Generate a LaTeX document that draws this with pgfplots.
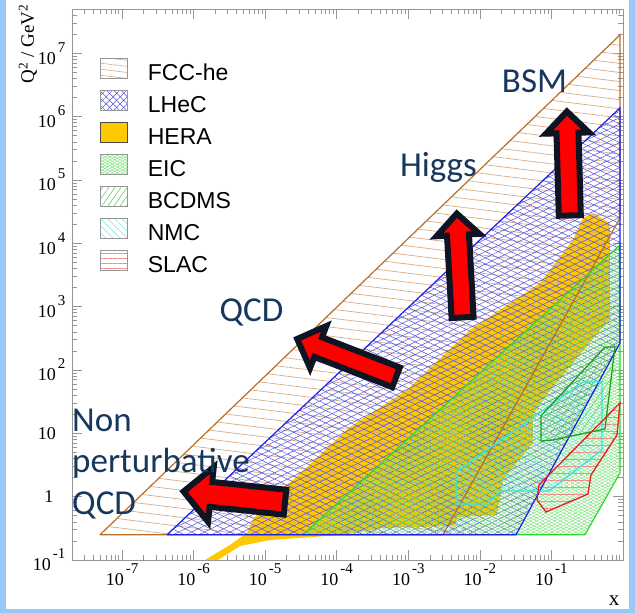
\documentclass[border=0pt]{standalone}
\usepackage{fontspec}
\setmainfont{Liberation Serif}
\newfontfamily\legfont{Liberation Sans}
\newfontfamily\calfont{Carlito}
\usepackage{pgfplots}
\pgfplotsset{compat=1.18}
\usetikzlibrary{patterns.meta,shapes.arrows}

\definecolor{fccc}{RGB}{185,110,40}
\definecolor{fcch}{RGB}{215,170,130}
\definecolor{lhecc}{RGB}{30,30,230}
\definecolor{lhech}{RGB}{80,80,220}
\definecolor{herac}{RGB}{255,200,0}
\definecolor{eicc}{RGB}{40,220,40}
\definecolor{eich}{RGB}{110,225,110}
\definecolor{bcdc}{RGB}{30,160,30}
\definecolor{bcdh}{RGB}{90,200,90}
\definecolor{nmcc}{RGB}{50,230,230}
\definecolor{nmch}{RGB}{110,230,230}
\definecolor{slacc}{RGB}{230,30,30}
\definecolor{slach}{RGB}{240,140,140}
\definecolor{navy}{RGB}{23,55,94}
\definecolor{framec}{RGB}{150,150,150}
\definecolor{slide}{RGB}{150,200,250}
\definecolor{arrowline}{RGB}{15,20,35}

\newcommand{\sx}[1]{10\kern2pt\raisebox{12pt}{\fontsize{15}{15}\selectfont #1}}

\begin{document}
\begin{tikzpicture}
\useasboundingbox (-72pt,-53pt) rectangle (563pt,560pt);
\begin{axis}[
  at={(0pt,0pt)}, anchor=south west,
  scale only axis, width=551pt, height=551pt,
  xmode=log, ymode=log,
  xmin=2e-8, xmax=1, ymin=0.1, ymax=5e7,
  xtick={1e-7,1e-6,1e-5,1e-4,1e-3,1e-2,1e-1},
  xticklabels={\sx{-7},\sx{-6},\sx{-5},\sx{-4},\sx{-3},\sx{-2},\sx{-1}},
  ytick={0.1,1,10,100,1e3,1e4,1e5,1e6,1e7},
  yticklabels={\sx{-1},{1\kern12pt},{10\kern9.5pt},\sx{2},\sx{3},\sx{4},\sx{5},\sx{6},\sx{7}},
  minor xtick={3e-8,4e-8,5e-8,6e-8,7e-8,8e-8,9e-8,
    2e-7,3e-7,4e-7,5e-7,6e-7,7e-7,8e-7,9e-7,
    2e-6,3e-6,4e-6,5e-6,6e-6,7e-6,8e-6,9e-6,
    2e-5,3e-5,4e-5,5e-5,6e-5,7e-5,8e-5,9e-5,
    2e-4,3e-4,4e-4,5e-4,6e-4,7e-4,8e-4,9e-4,
    2e-3,3e-3,4e-3,5e-3,6e-3,7e-3,8e-3,9e-3,
    2e-2,3e-2,4e-2,5e-2,6e-2,7e-2,8e-2,9e-2,
    0.2,0.3,0.4,0.5,0.6,0.7,0.8,0.9},
  minor ytick={0.2,0.3,0.4,0.5,0.6,0.7,0.8,0.9,
    2,3,4,5,6,7,8,9,
    20,30,40,50,60,70,80,90,
    200,300,400,500,600,700,800,900,
    2e3,3e3,4e3,5e3,6e3,7e3,8e3,9e3,
    2e4,3e4,4e4,5e4,6e4,7e4,8e4,9e4,
    2e5,3e5,4e5,5e5,6e5,7e5,8e5,9e5,
    2e6,3e6,4e6,5e6,6e6,7e6,8e6,9e6,
    2e7,3e7,4e7},
  tick align=inside,
  major tick length=10pt, minor tick length=5pt,
  tick style={framec, line width=0.6pt},
  axis line style={framec, line width=0.8pt},
  ticklabel style={font=\fontsize{18}{18}\selectfont},
  yticklabel style={xshift=-3pt},
  xlabel={x},
  xlabel style={at={(axis description cs:1,-0.0817)}, anchor=base east, font=\fontsize{21}{21}\selectfont},
  ylabel={Q\textsuperscript{2} / GeV\textsuperscript{2}},
  ylabel style={at={(axis description cs:-0.069,1.0145)}, anchor=base east, font=\fontsize{19}{19}\selectfont},
  legend style={at={(rel axis cs:0.051,0.911)}, anchor=north west, draw=none, fill=none,
    font=\legfont\fontsize{23}{23}\selectfont, row sep=4.7pt, column sep=20pt, inner sep=0pt,
    nodes={inner sep=0pt, text height=17pt, text depth=5pt}},
  legend cell align=left,
  legend image code/.code={\draw[#1] (0pt,-4pt) rectangle (27pt,16pt);},
]
% legend
\addlegendimage{draw=framec, line width=0.6pt, pattern={Lines[angle=-7,distance=6pt,line width=0.6pt]}, pattern color=fcch}
\addlegendentry{FCC-he}
\addlegendimage{draw=framec, line width=0.6pt, pattern={Lines[angle=45,distance=5pt,line width=0.5pt]}, pattern color=lhech, postaction={pattern={Lines[angle=-45,distance=5pt,line width=0.5pt]}, pattern color=lhech}}
\addlegendentry{LHeC}
\addlegendimage{draw=black!70, line width=0.6pt, fill=herac}
\addlegendentry{HERA}
\addlegendimage{draw=framec, line width=0.6pt, pattern={Lines[angle=30,distance=2.5pt,line width=0.4pt]}, pattern color=eich, postaction={pattern={Lines[angle=-30,distance=2.5pt,line width=0.4pt]}, pattern color=eich}}
\addlegendentry{EIC}
\addlegendimage{draw=framec, line width=0.6pt, pattern={Lines[angle=55,distance=5pt,line width=0.5pt]}, pattern color=bcdh}
\addlegendentry{BCDMS}
\addlegendimage{draw=framec, line width=0.6pt, pattern={Lines[angle=-45,distance=5pt,line width=0.5pt]}, pattern color=nmch}
\addlegendentry{NMC}
\addlegendimage{draw=framec, line width=0.6pt, pattern={Lines[angle=0,distance=5pt,line width=0.6pt]}, pattern color=slach}
\addlegendentry{SLAC}

% HERA
\addplot[forget plot, draw=none, fill=herac] coordinates {
(1.44e-6,0.1) (3.23e-6,0.173) (5.57e-6,0.267) (6.76e-6,0.429) (1.06e-5,0.885)
(2.45e-5,1.83) (3.84e-5,2.94) (1.53e-4,12.6) (9.59e-4,48.3) (7.28e-3,428)
(0.0692,2360) (0.2,1.13e4) (0.276,2.51e4) (0.381,3.01e4) (0.658,2.09e4)
(0.658,615) (0.508,460) (0.2,129) (0.0895,43.4) (0.0552,19.5) (0.0552,7.03)
(0.021,1.83) (0.0173,0.513) (4.79e-3,0.478) (4.49e-3,0.344) (4.43e-4,0.32)
(1.11e-4,0.248) (1.17e-5,0.207) (4.45e-6,0.166) (2.19e-6,0.1) (1.44e-6,0.1)};

% FCC-he hatch
\addplot[forget plot, draw=none, pattern={Lines[angle=-7,distance=9pt,line width=0.7pt]}, pattern color=fcch] coordinates {
(4.92e-8,0.25) (0.908,1.95e7) (0.908,2.51e4) (3.05e-3,0.25) (4.92e-8,0.25)};
% LHeC hatch
\addplot[forget plot, draw=none, pattern={Lines[angle=26,distance=5.6pt,line width=0.5pt]}, pattern color=lhech,
  postaction={pattern={Lines[angle=-26,distance=5.6pt,line width=0.5pt]}, pattern color=lhech}] coordinates {
(4.25e-7,0.25) (0.908,1.37e6) (0.908,267) (0.032,0.25) (4.25e-7,0.25)};
% EIC hatch
\addplot[forget plot, draw=none, pattern={Lines[angle=28,distance=2.8pt,line width=0.4pt]}, pattern color=eich,
  postaction={pattern={Lines[angle=-28,distance=2.8pt,line width=0.4pt]}, pattern color=eich}] coordinates {
(3.38e-5,0.25) (0.908,9400) (0.908,2.37) (0.294,0.25) (3.38e-5,0.25)};
% BCDMS hatch
\addplot[forget plot, draw=none, pattern={Lines[angle=55,distance=6pt,line width=0.5pt]}, pattern color=bcdh] coordinates {
(0.0714,18.8) (0.0714,7.56) (0.105,7.85) (0.165,8.75) (0.56,11.7) (0.773,231) (0.56,231) (0.0714,18.8)};
% NMC hatch
\addplot[forget plot, draw=none, pattern={Lines[angle=-45,distance=6pt,line width=0.5pt]}, pattern color=nmch] coordinates {
(4.63e-3,2.45) (4.63e-3,0.766) (0.01256,0.766) (0.0191,1.23) (0.0925,1.23) (0.508,5.46) (0.508,64.6) (0.276,64.6) (4.63e-3,2.45)};
% SLAC hatch
\addplot[forget plot, draw=none, pattern={Lines[angle=0,distance=7pt,line width=0.7pt]}, pattern color=slach] coordinates {
(0.067,1.53) (0.0628,0.885) (0.0839,0.573) (0.324,1.10) (0.357,2.20) (0.824,9.40) (0.908,30.1) (0.067,1.53)};

% outlines
\addplot[forget plot, fccc, line width=1.2pt] coordinates {
(4.92e-8,0.25) (0.908,1.95e7) (0.908,2.51e4) (3.05e-3,0.25) (4.92e-8,0.25)};
\addplot[forget plot, eicc, line width=1.2pt] coordinates {
(3.38e-5,0.25) (0.908,9400) (0.908,2.37) (0.294,0.25) (3.38e-5,0.25)};
\addplot[forget plot, lhecc, line width=1.2pt] coordinates {
(4.25e-7,0.25) (0.908,1.37e6) (0.908,267) (0.032,0.25) (4.25e-7,0.25)};
\addplot[forget plot, nmcc, line width=1.3pt] coordinates {
(4.63e-3,2.45) (4.63e-3,0.766) (0.01256,0.766) (0.0191,1.23) (0.0925,1.23) (0.508,5.46) (0.508,64.6) (0.276,64.6) (4.63e-3,2.45)};
\addplot[forget plot, bcdc, line width=1.3pt] coordinates {
(0.0714,18.8) (0.0714,7.56) (0.105,7.85) (0.165,8.75) (0.56,11.7) (0.773,231) (0.56,231) (0.0714,18.8)};
\addplot[forget plot, slacc, line width=1.3pt] coordinates {
(0.067,1.53) (0.0628,0.885) (0.0839,0.573) (0.324,1.10) (0.357,2.20) (0.824,9.40) (0.908,30.1) (0.067,1.53)};
\end{axis}

% arrows
\node[single arrow, draw=arrowline, fill=red, line width=6pt, inner sep=9.5pt, single arrow head extend=15pt, minimum height=102pt, rotate=174] at (168.5pt,62.5pt) {};
\node[single arrow, draw=arrowline, fill=red, line width=6pt, inner sep=7.5pt, single arrow head extend=12pt, minimum height=106pt, rotate=158.8] at (279.5pt,200pt) {};
\node[single arrow, draw=arrowline, fill=red, line width=6pt, inner sep=8pt, single arrow head extend=10.5pt, minimum height=104pt, rotate=93.2] at (388pt,289pt) {};
\node[single arrow, draw=arrowline, fill=red, line width=6pt, inner sep=8pt, single arrow head extend=10.5pt, minimum height=104pt, rotate=91.6] at (496.5pt,391pt) {};

% annotations
\begin{scope}[every node/.style={text=navy, font=\calfont\fontsize{35}{35}\selectfont, inner sep=0pt}]
\node[anchor=base] at (462.5pt,467pt) {BSM};
\node[anchor=base] at (366.5pt,383pt) {Higgs};
\node[anchor=base] at (179.5pt,238pt) {QCD};
\node[anchor=base west] at (0pt,128pt) {Non};
\node[anchor=base west] at (0pt,87pt) {perturbative};
\node[anchor=base west] at (0pt,45pt) {QCD};
\end{scope}

% slide frame
\fill[slide] (-72pt,-53pt) rectangle (-66pt,560pt);
\fill[slide] (557pt,-53pt) rectangle (563pt,560pt);
\fill[slide] (-72pt,-53pt) rectangle (563pt,-49pt);
\end{tikzpicture}
\end{document}
